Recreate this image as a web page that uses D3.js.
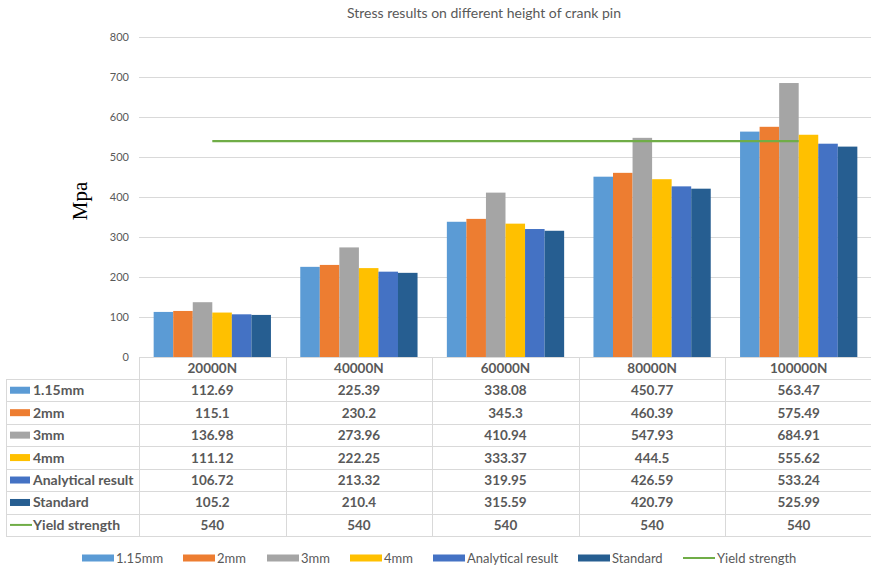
<!DOCTYPE html>
<html>
<head>
<meta charset="utf-8">
<script src="https://cdn.jsdelivr.net/npm/d3@7/dist/d3.min.js"></script>
<style>
  html, body { margin: 0; padding: 0; background: #fff; }
  svg { display: block; font-family: Lato, "Open Sans", sans-serif; }
</style>
</head>
<body>
<svg id="chart" width="871" height="570"></svg>
<script>
// Applied loads (x categories)
const categories = ["20000N", "40000N", "60000N", "80000N", "100000N"];

// Stress (MPa) per fillet height / method
const s115mm     = [112.69, 225.39, 338.08, 450.77, 563.47];
const s2mm       = [115.1, 230.2, 345.3, 460.39, 575.49];
const s3mm       = [136.98, 273.96, 410.94, 547.93, 684.91];
const s4mm       = [111.12, 222.25, 333.37, 444.5, 555.62];
const analytical = [106.72, 213.32, 319.95, 426.59, 533.24];
const standard   = [105.2, 210.4, 315.59, 420.79, 525.99];
const yieldStrength = [540, 540, 540, 540, 540];

const seriesNames = ["1.15mm", "2mm", "3mm", "4mm", "Analytical result", "Standard"];
const yTicks = [0, 100, 200, 300, 400, 500, 600, 700, 800];

const barSeries = [
  { name: seriesNames[0], values: s115mm,     color: "#5B9BD5" },
  { name: seriesNames[1], values: s2mm,       color: "#ED7D31" },
  { name: seriesNames[2], values: s3mm,       color: "#A5A5A5" },
  { name: seriesNames[3], values: s4mm,       color: "#FFC000" },
  { name: seriesNames[4], values: analytical, color: "#4472C4" },
  { name: seriesNames[5], values: standard,   color: "#265E91" }
];
const lineSeries = { name: "Yield strength", values: yieldStrength, color: "#70AD47" };

const svg = d3.select("#chart");
const textColor = "#595959";
const gridColor = "#D9D9D9";

const plot = { left: 139, right: 872, top: 37, bottom: 357 };

const x = d3.scaleBand()
  .domain(categories)
  .range([plot.left, plot.right])
  .paddingInner(0.2)
  .paddingOuter(0.1);

const x1 = d3.scaleBand()
  .domain(seriesNames)
  .range([0, x.bandwidth()]);

const y = d3.scaleLinear()
  .domain([0, 800])
  .range([plot.bottom, plot.top]);

// Title
svg.append("text")
  .attr("x", 484)
  .attr("y", 18)
  .attr("text-anchor", "middle")
  .attr("font-size", 14)
  .attr("fill", textColor)
  .text("Stress results on different height of crank pin");

// Y axis with gridlines
const yAxis = d3.axisLeft(y)
  .tickValues(yTicks)
  .tickSize(-(plot.right - plot.left))
  .tickPadding(10);

const gy = svg.append("g")
  .attr("transform", `translate(${plot.left},0)`)
  .call(yAxis);
gy.select(".domain").remove();
gy.selectAll(".tick line").attr("stroke", gridColor).attr("stroke-width", 1);
gy.selectAll(".tick text")
  .attr("fill", textColor)
  .attr("font-size", 11)
  .attr("font-family", "Lato, 'Open Sans', sans-serif");
gy.selectAll(".tick").filter(d => d === 0).select("line").remove();

// Y axis title
svg.append("text")
  .attr("transform", `translate(87,${(plot.top + plot.bottom) / 2 + 4}) rotate(-90)`)
  .attr("text-anchor", "middle")
  .style("font-family", "'Liberation Serif', 'DejaVu Serif', serif")
  .attr("font-size", 21)
  .attr("fill", "#000")
  .text("Mpa");

// Bars
const groups = svg.append("g").selectAll("g")
  .data(categories)
  .join("g")
  .attr("transform", c => `translate(${x(c)},0)`);

groups.selectAll("rect")
  .data((c, i) => barSeries.map(s => ({ name: s.name, value: s.values[i], color: s.color })))
  .join("rect")
  .attr("x", d => x1(d.name))
  .attr("width", x1.bandwidth())
  .attr("y", d => y(d.value))
  .attr("height", d => y(0) - y(d.value))
  .attr("fill", d => d.color);

// Yield strength line
const line = d3.line()
  .x((v, i) => x(categories[i]) + x.bandwidth() / 2)
  .y(v => y(v));

svg.append("path")
  .datum(lineSeries.values)
  .attr("d", line)
  .attr("fill", "none")
  .attr("stroke", lineSeries.color)
  .attr("stroke-width", 2.25);

// Data table under the plot
const step = x.step();
const colLeft = c => x(c) + x.bandwidth() / 2 - step / 2;
const tableLeft = 6;
const headerTop = plot.bottom;
const rowH = 22.45;
const rowsTop = headerTop + 22;
const tableRows = barSeries.concat([lineSeries]);
const tableBottom = rowsTop + rowH * tableRows.length;

const table = svg.append("g");

// horizontal rules
table.append("line")
  .attr("x1", plot.left).attr("x2", plot.right)
  .attr("y1", headerTop + 0.5).attr("y2", headerTop + 0.5)
  .attr("stroke", gridColor);
d3.range(tableRows.length + 1).forEach(r => {
  const yy = Math.round(rowsTop + r * rowH) + 0.5;
  table.append("line")
    .attr("x1", tableLeft).attr("x2", plot.right)
    .attr("y1", yy).attr("y2", yy)
    .attr("stroke", gridColor);
});
// vertical rules
table.append("line")
  .attr("x1", tableLeft + 0.5).attr("x2", tableLeft + 0.5)
  .attr("y1", rowsTop).attr("y2", tableBottom)
  .attr("stroke", gridColor);
categories.forEach(c => {
  const xx = Math.round(colLeft(c)) + 0.5;
  table.append("line")
    .attr("x1", xx).attr("x2", xx)
    .attr("y1", headerTop).attr("y2", tableBottom)
    .attr("stroke", gridColor);
});

// category header
table.selectAll("text.cat")
  .data(categories)
  .join("text")
  .attr("class", "cat")
  .attr("x", c => x(c) + x.bandwidth() / 2)
  .attr("y", headerTop + 16)
  .attr("text-anchor", "middle")
  .attr("font-size", 13.5)
  .attr("font-weight", "bold")
  .attr("fill", textColor)
  .text(c => c);

// rows
tableRows.forEach((s, r) => {
  const cy = rowsTop + r * rowH + rowH / 2;
  if (s === lineSeries) {
    table.append("line")
      .attr("x1", 10).attr("x2", 32)
      .attr("y1", cy).attr("y2", cy)
      .attr("stroke", s.color).attr("stroke-width", 2);
  } else {
    table.append("rect")
      .attr("x", 10).attr("y", cy - 3.5)
      .attr("width", 20).attr("height", 7)
      .attr("fill", s.color);
  }
  table.append("text")
    .attr("x", 33).attr("y", cy + 5)
    .attr("font-size", 14)
    .attr("font-weight", "bold")
    .attr("fill", textColor)
    .text(s.name);
  categories.forEach((c, i) => {
    table.append("text")
      .attr("x", x(c) + x.bandwidth() / 2)
      .attr("y", cy + 5)
      .attr("text-anchor", "middle")
      .attr("font-size", 13.5)
      .attr("font-weight", "bold")
      .attr("fill", textColor)
      .text(s.values[i]);
  });
});

// Legend
const legendItems = [
  { s: barSeries[0], x: 82 },
  { s: barSeries[1], x: 183 },
  { s: barSeries[2], x: 267 },
  { s: barSeries[3], x: 350 },
  { s: barSeries[4], x: 433 },
  { s: barSeries[5], x: 578 },
  { s: lineSeries,   x: 683 }
];
const legend = svg.append("g");
const ly = 558;
legendItems.forEach(({ s, x: lx }) => {
  if (s === lineSeries) {
    legend.append("line")
      .attr("x1", lx).attr("x2", lx + 32)
      .attr("y1", ly).attr("y2", ly)
      .attr("stroke", s.color).attr("stroke-width", 2);
  } else {
    legend.append("rect")
      .attr("x", lx).attr("y", ly - 3.5)
      .attr("width", 32).attr("height", 7)
      .attr("fill", s.color);
  }
  legend.append("text")
    .attr("x", lx + 34).attr("y", ly + 4.5)
    .attr("font-size", 13)
    .attr("fill", textColor)
    .text(s.name);
});
</script>
</body>
</html>
